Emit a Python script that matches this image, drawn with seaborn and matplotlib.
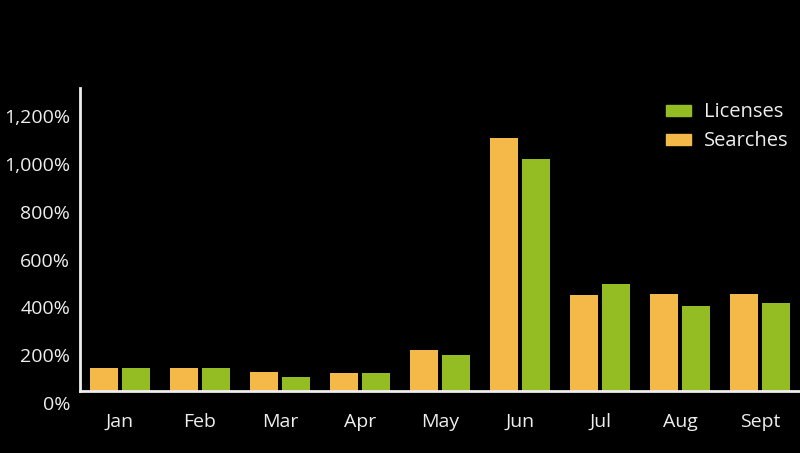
import pandas as pd
import seaborn as sns
import matplotlib.pyplot as plt
import matplotlib.transforms as mtransforms
from matplotlib.patches import Patch

months = ['Jan', 'Feb', 'Mar', 'Apr', 'May', 'Jun', 'Jul', 'Aug', 'Sept']
searches = [96, 96, 79, 75, 171, 1059, 401, 406, 406]
licenses = [96, 96, 59, 75, 150, 970, 448, 357, 367]
tick_values = [0, 200, 400, 600, 800, 1000, 1200]
tick_labels = ['0%', '200%', '400%', '600%', '800%', '1,000%', '1,200%']

colors = {'Searches': '#F5B94A', 'Licenses': '#93BD22'}


def plot(path):
    frame = pd.DataFrame({
        'month': months * 2,
        'series': ['Searches'] * len(months) + ['Licenses'] * len(months),
        'value': searches + licenses,
    })

    sns.set_style('dark')
    plt.rcParams['font.family'] = ['Open Sans', 'DejaVu Sans']

    fig = plt.figure(figsize=(8, 4.53), dpi=100, facecolor='black')
    ax = fig.add_axes([0.1, 0.137, 0.9, 0.669])
    ax.set_facecolor('black')

    sns.barplot(data=frame, x='month', y='value', hue='series',
                order=months, hue_order=['Searches', 'Licenses'],
                palette=colors, width=0.8, gap=0.1, linewidth=0,
                saturation=1, legend=False, ax=ax)

    ax.set_xlim(-0.5, 8.5)
    ax.set_ylim(0, 1268)
    ax.set_yticks(tick_values)
    ax.set_yticklabels(tick_labels)
    ax.tick_params(axis='both', length=0, colors='#EEEEEE', labelsize=14)
    ax.tick_params(axis='x', pad=16)
    ax.tick_params(axis='y', pad=7)

    # labels in the original sit a little below their gridline
    shift = mtransforms.ScaledTranslation(0, -12 / 100, fig.dpi_scale_trans)
    for lbl in ax.get_yticklabels():
        lbl.set_transform(lbl.get_transform() + shift)

    ax.grid(False)
    for side in ['top', 'right']:
        ax.spines[side].set_visible(False)
    for side in ['left', 'bottom']:
        ax.spines[side].set_color('#EEEEEE')
        ax.spines[side].set_linewidth(2)

    ax.set_xlabel('')
    ax.set_ylabel('')

    handles = [Patch(color=colors['Licenses'], label='Licenses'),
               Patch(color=colors['Searches'], label='Searches')]
    leg = ax.legend(handles=handles, loc='upper right',
                    bbox_to_anchor=(1.009, 1.012), frameon=False,
                    fontsize=14.5, handlelength=1.2, handleheight=0.45,
                    labelspacing=0.45, handletextpad=0.65)
    for t in leg.get_texts():
        t.set_color('#EEEEEE')

    plt.savefig(path, dpi=100, facecolor='black')


if __name__ == '__main__':
    plot('out.png')
